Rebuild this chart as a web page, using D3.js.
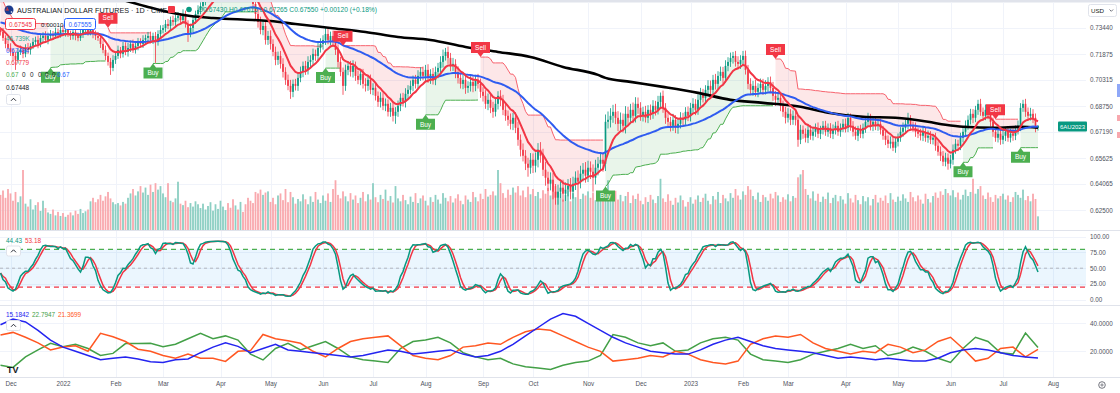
<!DOCTYPE html>
<html><head><meta charset="utf-8">
<script src="https://cdn.jsdelivr.net/npm/d3@7/dist/d3.min.js"></script>
<style>html,body{margin:0;background:#fff;overflow:hidden}svg{display:block;font-family:"Liberation Sans",Arial,Helvetica,sans-serif}</style>
</head><body><svg id="c" width="1120" height="393"></svg>
<script>
// ---- data (prices in 1e-4 units) ----
const firstOpen = 7330;
const closes = [
7320,7284,7248,7224,7200,7176,7152,7200,7212,7188,7224,7212,7236,7260,7272,7248,7284,7296,7272,7296,
7308,7296,7320,7308,7332,7320,7332,7308,7296,7320,7296,7284,7308,7332,7344,7320,7332,7308,7296,7284,
7248,7212,7176,7140,7104,7152,7176,7212,7188,7236,7200,7224,7248,7212,7236,7260,7248,7272,7284,7296,
7272,7296,7260,7308,7332,7344,7368,7356,7392,7380,7404,7416,7392,7428,7368,7308,7344,7392,7428,7452,
7476,7500,7524,7548,7572,7584,7596,7608,7620,7644,7668,7632,7596,7572,7584,7560,7596,7572,7560,7548,
7536,7488,7428,7380,7332,7356,7272,7296,7248,7200,7152,7176,7128,7080,7032,6996,6960,7008,6996,7044,
7080,7116,7092,7140,7152,7188,7176,7224,7248,7272,7308,7272,7296,7260,7212,7140,7080,6996,7092,7116,
7080,7116,7056,7032,7068,7008,6996,7032,6972,6984,6936,6900,6924,6876,6888,6840,6864,6816,6840,6876,
6924,6900,6948,6972,6996,7032,7008,7056,7080,7056,7092,7044,7068,7032,7080,7104,7140,7176,7200,7164,
7116,7128,7080,7044,7008,7032,6984,6996,7020,6996,7032,7008,6960,6936,6888,6912,6864,6840,6888,6936,
6912,6852,6816,6792,6768,6804,6744,6672,6612,6576,6528,6504,6552,6516,6552,6612,6576,6492,6444,6408,
6432,6360,6324,6360,6384,6348,6372,6396,6360,6408,6444,6420,6468,6492,6456,6504,6480,6444,6504,6528,
6552,6528,6780,6792,6816,6840,6804,6768,6792,6756,6828,6804,6852,6816,6888,6864,6816,6840,6804,6852,
6828,6876,6852,6900,6936,6864,6804,6780,6756,6792,6744,6768,6804,6792,6840,6816,6864,6888,6852,6912,
6948,6924,6972,6996,6972,7032,7008,7056,7080,7044,7116,7140,7164,7176,7140,7128,7152,7176,7092,7008,
6972,6996,6960,6984,7008,6972,6996,7020,6984,6936,6912,6924,6876,6840,6804,6828,6792,6816,6792,6672,
6732,6708,6684,6732,6696,6720,6744,6708,6732,6756,6720,6744,6708,6732,6756,6720,6744,6768,6744,6804,
6756,6720,6696,6732,6708,6744,6780,6804,6756,6780,6756,6768,6732,6696,6672,6648,6660,6624,6660,6684,
6720,6744,6768,6792,6756,6744,6720,6708,6696,6720,6684,6696,6672,6684,6636,6600,6576,6540,6564,6528,
6552,6612,6648,6636,6684,6720,6756,6792,6828,6804,6852,6888,6840,6816,6852,6828,6780,6720,6684,6708,
6672,6696,6720,6684,6708,6696,6732,6756,6864,6888,6840,6816,6828,6804,6743,6755];
const hiWick = [
20,24,16,22,28,18,24,20,26,18,22,30,16,24,20,26,18,22,28,20,
24,18,26,20,22,28,16,24,20,26,18,22,30,20,24,18,26,22,20,24,
18,22,26,20,24,28,20,26,18,24,22,30,20,26,18,24,22,28,20,24,
26,20,24,22,28,18,24,30,20,26,22,24,18,28,20,22,26,24,20,28,
22,26,20,24,28,22,26,30,28,32,36,26,30,34,28,32,26,30,34,28,
30,26,34,28,32,36,26,30,34,28,32,26,30,34,28,32,36,26,30,28,
32,26,30,34,28,32,26,30,34,28,36,30,26,32,28,34,30,26,32,28,
30,34,26,32,28,30,34,26,32,28,30,26,34,28,32,26,30,34,28,32,
26,30,34,28,32,26,30,34,28,32,30,34,28,36,32,30,34,38,24,32,
30,36,28,34,32,30,36,28,34,32,30,36,32,28,34,38,30,36,32,28,
34,30,36,32,38,30,34,36,32,38,34,36,40,38,44,40,46,42,48,36,
44,40,46,42,38,48,44,40,46,42,38,44,48,40,46,42,38,44,48,40,
46,42,44,50,46,42,48,40,44,38,46,42,36,44,40,38,34,30,36,28,
32,34,30,36,20,32,28,34,30,36,28,32,34,30,28,32,30,34,28,32,
36,30,28,34,32,30,36,28,32,30,34,28,32,24,30,34,28,30,32,30,
34,30,36,28,32,30,34,28,32,36,30,34,28,32,30,34,28,32,30,28,
30,26,32,24,28,30,26,32,24,28,30,26,28,32,24,30,26,28,32,30,
26,28,32,24,30,26,28,30,24,28,32,26,30,24,28,26,32,28,30,26,
28,32,24,42,28,26,32,24,30,28,26,32,28,24,30,26,32,28,30,26,
30,32,28,24,30,28,32,26,30,28,24,24,30,26,32,28,30,26,28,30,
26,32,28,24,30,28,26,32,28,24,30,26,36,28,26,6];
const loWick = [
22,18,26,20,24,28,60,22,18,26,20,24,28,18,22,26,20,24,18,26,
20,24,18,26,22,20,28,18,24,22,26,20,18,24,28,22,20,26,24,18,
24,20,26,22,42,20,24,18,26,22,20,28,24,18,22,26,20,24,28,22,
20,24,126,22,26,20,24,18,28,22,26,20,24,18,22,48,20,26,24,18,
26,22,20,24,28,18,22,26,30,26,34,28,32,30,26,34,28,32,30,26,
28,32,30,34,26,32,28,30,34,26,32,30,28,34,30,26,42,32,28,30,
26,32,30,28,34,26,30,32,28,34,30,26,32,28,30,34,26,54,30,32,
28,34,30,26,32,28,34,30,26,32,28,30,34,26,32,28,30,34,48,30,
32,28,34,30,26,32,28,34,30,26,34,30,36,28,32,38,30,34,28,36,
32,30,38,34,28,32,36,30,34,38,32,28,36,34,30,38,32,36,28,34,
38,32,30,36,34,38,32,36,40,34,38,54,36,44,40,46,42,38,48,44,
40,46,42,42,38,48,44,40,46,42,38,44,40,46,42,38,44,84,40,46,
42,48,44,40,46,42,38,44,48,40,46,42,38,44,40,36,30,34,28,32,
36,30,34,28,32,30,36,28,34,30,32,36,28,34,30,32,34,28,32,30,
36,28,32,34,30,28,34,32,30,36,28,32,30,34,28,32,30,34,28,32,
30,36,28,32,34,30,28,34,32,30,36,28,32,30,34,28,32,30,34,42,
26,30,28,32,24,28,30,26,32,28,24,30,26,32,28,24,30,26,28,26,
30,28,24,32,26,28,30,24,28,32,26,30,28,24,32,26,28,20,30,28,
24,30,26,32,28,24,30,26,28,32,24,30,26,28,30,24,32,26,28,36,
28,30,24,32,26,28,30,24,28,32,26,30,24,28,26,32,28,30,24,28,
30,26,32,24,28,30,26,28,32,24,30,26,28,32,26,16];
const volumeK = [
120,135,110,140,125,100,130,95,115,205,90,80,105,70,85,95,65,100,75,60,
55,70,50,62,48,58,45,52,60,50,66,55,72,58,64,70,98,110,95,105,
120,100,115,130,108,95,88,92,84,96,90,110,125,140,118,132,150,128,145,120,
155,130,160,138,150,125,112,160,100,95,108,165,90,85,100,78,92,80,98,88,
75,90,70,82,95,66,88,72,100,80,68,92,76,105,84,70,96,62,88,110,
100,92,130,125,138,120,128,132,96,110,88,118,125,102,140,95,130,112,90,106,
98,122,105,88,115,96,130,104,92,118,100,125,96,140,170,120,108,132,115,98,
126,104,118,92,110,130,98,122,104,160,112,95,120,106,138,100,116,94,150,108,
98,120,102,88,114,96,126,92,108,118,100,84,112,96,120,104,90,126,110,98,
116,94,108,122,100,88,118,104,96,130,112,98,124,106,140,114,120,132,118,205,
160,126,110,138,120,145,128,150,118,135,112,148,122,140,116,130,108,136,124,144,
118,132,150,112,128,104,120,136,98,126,112,140,106,124,118,132,110,128,102,120,
114,130,108,170,126,112,134,104,120,98,116,130,92,118,106,124,100,88,112,96,
120,104,92,116,175,108,96,122,100,86,110,94,118,102,80,96,112,90,104,118,
96,110,124,100,88,116,104,130,92,120,108,98,126,110,140,118,104,132,120,150,
138,116,104,128,96,120,112,100,124,108,130,118,96,112,104,122,98,116,110,180,
190,205,140,120,108,132,100,124,96,114,106,128,92,110,120,98,116,104,90,126,
108,94,120,102,88,116,98,112,84,106,120,94,110,100,118,92,126,104,96,114,
100,122,108,96,130,112,98,118,104,90,124,106,94,116,128,110,132,120,140,126,
118,136,112,128,104,120,138,116,130,175,124,140,150,118,106,128,112,96,120,108,
116,124,104,118,96,112,130,120,110,138,102,116,98,124,106,46.739];
const blackBars = [0,20,40,49,59,67,76,85,101,108,118,132,146,159,172,186,199,212,225,239,242,252,265,279,292,305,320,331,345,358,371,378,385,398,408,415];
const blackVals = [7692,7620,7548,7512,7470,7440,7416,7404,7392,7386,7368,7344,7320,7290,7272,7230,7200,7170,7110,7062,7044,7020,6990,6954,6912,6894,6870,6834,6810,6804,6780,6762,6750,6744,6750,6745];
// DMI readings every 5 bars (bar 0..415)
const adxVals = [39,43,41,35,28,23,20,17,14,15,16,14.5,12.5,12,14,14.5,19,23,26,23.5,19,22,25,21,20,19,18,17,16,17,19,21,20,18,19,20,21,18,16,17,20,25,31,37,43,47,45,40,35,30,26,23,20,19,18,18,21,25,28,30,27,24,22,21,20,19,17,15,16,15,14,15,14,13,13,15,19,21,22,21,19,17,16,15.18];
const plusDiVals = [10,8.5,16,21,25.7,23.3,25,22,17,18.5,25.5,25.5,25.7,23.3,25,29,32.8,29,31,28,18,13.8,22,25.7,21,24,27,22,16,14,13,12,22,27,28,30,26,19,16,14,15,11,9,8,7,10,12,13,17,32,30,26,24,26,20,21,26,29,30,28,18,14,13,12,14,18,20,22,25,22,24,17,19,23,20,15,12,22,30,27,19,18,33,22.79];
const minusDiVals = [31.6,33.5,30,26,21,23,24,20,32.8,30.4,27,21.5,20,17,15,18,15,15,12.8,20,20.5,32,29,27.5,25.7,20,16,22,27,29,30,31,24,17,15,14,17,23,24,26,25,30,34,36,35,31,27,23,20,13,14,15,17,16,20,18,14,12,11,13,25,29,31,30,32,26,22,20,18,20,19,25,23,19,21,27,30,22,13,15,22,23,16,21.37];
const dmiStep = 5;
const redSeed = 7344, blueSeed = 7380;
const ceSeedAtr = 75;
const buyBars = [20,61,130,170,242,385,408];
const sellBars = [43,103,137,192,310,398];
const monthBars = [4,25,46,65,88,108,129,149,170,193,213,235,256,276,297,315,338,359,380,401,421];
const monthLabels = ["Dec","2022","Feb","Mar","Apr","May","Jun","Jul","Aug","Sep","Oct","Nov","Dec","2023","Feb","Mar","Apr","May","Jun","Jul","Aug"];
const priceTicks = [0.7344,0.71875,0.70315,0.6875,0.6719,0.65625,0.64065,0.625];
const priceTickLabels = ["0.73440","0.71875","0.70315","0.68750","0.67190","0.65625","0.64065","0.62500"];
const stochTicks = [100,75,50,25,0];
const dmiTicks = [40,20];

// ---- setup ----
const svg = d3.select('#c');
const R = 1086;
const N = closes.length;
const C = closes.map(v=>v/1e4);
const O = C.map((c,i)=> i ? C[i-1] : firstOpen/1e4);
const Hh = C.map((c,i)=> Math.max(O[i],c) + (hiWick[i]??20)/1e4);
const Ll = C.map((c,i)=> Math.min(O[i],c) - (loWick[i]??20)/1e4);
const V = C.map((c,i)=> volumeK[i]??0);
const isUp = C.map((c,i)=> c >= O[i]);
const ohlc4 = C.map((c,i)=>(O[i]+Hh[i]+Ll[i]+c)/4);

const x = d3.scaleLinear().domain([0,1]).range([0.5,3]);
const yP = d3.scaleLinear().domain([0.625,0.640625]).range([210,184]);
const yV = d3.scaleLinear().domain([0,d3.max(V)]).range([230,170]);
const yS = d3.scaleLinear().domain([0,100]).range([299.7,236.7]);
const yD = d3.scaleLinear().domain([0,40]).range([379.3,323.3]);

// ---- indicators ----
function ema(src,n,seed){const a=2/(n+1);let e=seed;return src.map(v=>(e=e+a*(v-e)));}
const redL = ema(C,10,redSeed/1e4);
const blueL = ema(C,50,blueSeed/1e4);
const sma=(a,n)=>a.map((v,i)=>d3.mean(a.slice(Math.max(0,i-n+1),i+1)));
const kRaw = C.map((c,i)=>{const s=Math.max(0,i-13);const hh=d3.max(Hh.slice(s,i+1)),ll=d3.min(Ll.slice(s,i+1));return hh>ll?100*(c-ll)/(hh-ll):50;});
const stK = sma(kRaw,3), stD = sma(stK,3);
const TR = C.map((c,i)=> i? Math.max(Hh[i]-Ll[i], Math.abs(Hh[i]-C[i-1]), Math.abs(Ll[i]-C[i-1])) : Hh[i]-Ll[i]);
let atr=ceSeedAtr/1e4; const longS=[],shortS=[],dir=[]; let d0=-1;
for(let i=0;i<N;i++){
  atr+=(TR[i]-atr)/22;
  const w=C.slice(Math.max(0,i-21),i+1);
  let ls=d3.max(w)-3*atr, ss=d3.min(w)+3*atr;
  if(i){ if(C[i-1]>longS[i-1]) ls=Math.max(ls,longS[i-1]); if(C[i-1]<shortS[i-1]) ss=Math.min(ss,shortS[i-1]); }
  longS.push(ls); shortS.push(ss);
  if(buyBars.includes(i)) d0=1; if(sellBars.includes(i)) d0=-1;
  dir.push(d0);
}

// ---- frame ----
const defs=svg.append('defs');
defs.append('clipPath').attr('id','cm').append('rect').attr('x',0).attr('y',2).attr('width',R).attr('height',228);
defs.append('clipPath').attr('id','cs').append('rect').attr('x',0).attr('y',231).attr('width',R).attr('height',74);
defs.append('clipPath').attr('id','cd').append('rect').attr('x',0).attr('y',306).attr('width',R).attr('height',71);
svg.append('rect').attr('x',0).attr('y',0).attr('width',1120).attr('height',2.5).attr('fill','#e0e3eb');

const grid=svg.append('g').attr('stroke','#f0f3fa').attr('stroke-width',1);
monthBars.forEach(b=>grid.append('line').attr('x1',Math.round(x(b))+0.5).attr('x2',Math.round(x(b))+0.5).attr('y1',2.5).attr('y2',377));
priceTicks.forEach(p=>grid.append('line').attr('x1',0).attr('x2',R).attr('y1',Math.round(yP(p))+0.5).attr('y2',Math.round(yP(p))+0.5));
stochTicks.forEach(p=>grid.append('line').attr('x1',0).attr('x2',R).attr('y1',Math.round(yS(p))+0.5).attr('y2',Math.round(yS(p))+0.5));
dmiTicks.forEach(p=>grid.append('line').attr('x1',0).attr('x2',R).attr('y1',Math.round(yD(p))+0.5).attr('y2',Math.round(yD(p))+0.5));
[230.5,305.5,377.5].forEach(y=>svg.append('line').attr('x1',0).attr('x2',1120).attr('y1',y).attr('y2',y).attr('stroke','#e0e3eb'));

// ---- main pane ----
const main=svg.append('g').attr('clip-path','url(#cm)');
const idx=d3.range(N);
main.append('g').selectAll('rect').data(idx).join('rect')
  .attr('x',i=>x(i)-0.9).attr('width',1.8).attr('y',i=>yV(V[i])).attr('height',i=>230-yV(V[i]))
  .attr('fill',i=>isUp[i]?'#8ccfc3':'#f9a8ad');
const segs=[]; let cur=null;
for(let i=0;i<N;i++){ if(!cur||cur.d!==dir[i]){cur={d:dir[i],s:i,e:i};segs.push(cur);} else cur.e=i; }
segs.forEach(sg=>{
  const ids=d3.range(sg.s,sg.e+1); const st=sg.d>0?longS:shortS;
  main.append('path').datum(ids).attr('fill',sg.d>0?'rgba(76,175,80,0.12)':'rgba(242,54,69,0.12)')
    .attr('d',d3.area().x(i=>x(i)).y0(i=>yP(ohlc4[i])).y1(i=>yP(st[i])));
  main.append('path').datum(ids).attr('fill','none').attr('stroke',sg.d>0?'#4caf50':'#f7636e').attr('stroke-width',1)
    .attr('d',d3.line().x(i=>x(i)).y(i=>yP(st[i])));
});
const cg=main.append('g');
cg.selectAll('line').data(idx).join('line').attr('x1',i=>x(i)).attr('x2',i=>x(i))
  .attr('y1',i=>yP(Hh[i])).attr('y2',i=>yP(Ll[i])).attr('stroke',i=>isUp[i]?'#089981':'#f23645').attr('stroke-width',0.8);
cg.selectAll('rect').data(idx).join('rect').attr('x',i=>x(i)-0.85).attr('width',1.7)
  .attr('y',i=>Math.min(yP(O[i]),yP(C[i]))).attr('height',i=>Math.max(0.7,Math.abs(yP(O[i])-yP(C[i]))))
  .attr('fill',i=>isUp[i]?'#089981':'#f23645');
main.append('path').datum(blackBars.map((b,k)=>[b,blackVals[k]/1e4])).attr('fill','none').attr('stroke','#000').attr('stroke-width',2.6)
  .attr('d',d3.line().x(d=>x(d[0])).y(d=>yP(d[1])).curve(d3.curveMonotoneX));
main.append('path').datum(idx).attr('fill','none').attr('stroke','#2f5cf0').attr('stroke-width',2)
  .attr('d',d3.line().x(i=>x(i)).y(i=>yP(blueL[i])));
main.append('path').datum(idx).attr('fill','none').attr('stroke','#f23645').attr('stroke-width',2)
  .attr('d',d3.line().x(i=>x(i)).y(i=>yP(redL[i])));
function sig(i,yv,buy){
  const cx=x(i), w=19, h=11, col=buy?'#4caf50':'#f23645';
  const s=buy?1:-1;
  const top=Math.min(yv, yv+(4+h)*s), bot=Math.max(yv, yv+(4+h)*s);
  if(top<2 || bot>230) return;
  const g=main.append('g');
  g.append('path').attr('fill',col).attr('d',`M${cx},${yv} L${cx+3},${yv+4*s} H${cx+w/2} V${yv+(4+h)*s} H${cx-w/2} V${yv+4*s} H${cx-3} Z`);
  g.append('text').attr('x',cx).attr('y',yv+(4+h/2)*s).attr('dy','0.35em').attr('text-anchor','middle')
    .attr('font-size',6.5).attr('fill','#fff').text(buy?'Buy':'Sell');
}
buyBars.forEach(i=>{ if(i<N) sig(i,yP(longS[i]),true); });
sellBars.forEach(i=>{ if(i<N) sig(i,yP(shortS[i]),false); });

// ---- stochastic pane ----
const sp=svg.append('g').attr('clip-path','url(#cs)');
sp.append('rect').attr('x',0).attr('width',R).attr('y',yS(80)).attr('height',yS(20)-yS(80)).attr('fill','rgba(33,150,243,0.09)');
[[80,'#4caf50',1.3,'5,4'],[50,'#b2b5be',1,'3,3'],[20,'#f23645',1.3,'5,4']].forEach(([v,c,wd,da])=>
  sp.append('line').attr('x1',0).attr('x2',R).attr('y1',yS(v)).attr('y2',yS(v)).attr('stroke',c).attr('stroke-width',wd).attr('stroke-dasharray',da));
sp.append('path').datum(idx).attr('fill','none').attr('stroke','#f23645').attr('stroke-width',1.5)
  .attr('d',d3.line().x(i=>x(i)).y(i=>yS(stD[i])));
sp.append('path').datum(idx).attr('fill','none').attr('stroke','#089981').attr('stroke-width',1.5)
  .attr('d',d3.line().x(i=>x(i)).y(i=>yS(stK[i])));

// ---- DMI pane ----
const dp=svg.append('g').attr('clip-path','url(#cd)');
const dBar=k=>Math.min(k*dmiStep,N-1);
[[plusDiVals,'#43a047'],[minusDiVals,'#ff5722'],[adxVals,'#2424f0']].forEach(([arr,c])=>
  dp.append('path').datum(arr.map((v,k)=>[dBar(k),v])).attr('fill','none').attr('stroke',c).attr('stroke-width',1.5)
    .attr('d',d3.line().x(d=>x(d[0])).y(d=>yD(d[1]))));

// ---- axes ----
function styleAxis(g){g.select('.domain').remove();g.selectAll('line').remove();g.attr('font-family',null);
  g.selectAll('text').attr('font-size',6.3).attr('fill','#50535e');}
svg.append('g').attr('transform',`translate(${R},0)`)
  .call(d3.axisRight(yP).tickValues(priceTicks).tickFormat((d,k)=>priceTickLabels[k]).tickSize(0).tickPadding(4)).call(styleAxis);
svg.append('g').attr('transform',`translate(${R},0)`)
  .call(d3.axisRight(yS).tickValues(stochTicks).tickFormat(d3.format('.2f')).tickSize(0).tickPadding(4)).call(styleAxis);
svg.append('g').attr('transform',`translate(${R},0)`)
  .call(d3.axisRight(yD).tickValues(dmiTicks).tickFormat(d3.format('.4f')).tickSize(0).tickPadding(4)).call(styleAxis);
svg.append('g').attr('transform','translate(0,380)')
  .call(d3.axisBottom(x).tickValues(monthBars).tickFormat((d,k)=>monthLabels[k]).tickSize(0).tickPadding(2)).call(styleAxis);

// ---- legends / widgets ----
const T=(xx,yy,t,col,fs,extra)=>{const e=svg.append('text').attr('x',xx).attr('y',yy).attr('fill',col).attr('font-size',fs||6.6).text(t);
  if(extra) Object.entries(extra).forEach(([k,v])=>e.attr(k,v)); return e;};
svg.append('circle').attr('cx',9).attr('cy',10).attr('r',4.5).attr('fill','#1b3b8f');
svg.append('path').attr('d','M5.5,10 H9 M7.2,7.2 V10').attr('stroke','#e53935').attr('stroke-width',1);
svg.append('circle').attr('cx',11.5).attr('cy',12).attr('r',0.8).attr('fill','#fff');
T(17,12.6,'AUSTRALIAN DOLLAR FUTURES · 1D · CME','#131722',7.6,{textLength:150,lengthAdjust:'spacingAndGlyphs'});
svg.append('rect').attr('x',168).attr('y',6).attr('width',7).attr('height',7).attr('rx',1).attr('fill','#f23645');
svg.append('circle').attr('cx',189).attr('cy',9.5).attr('r',2.8).attr('fill','#089981');
T(198,12.4,'O0.67430 H0.67615 L0.67265 C0.67550 +0.00120 (+0.18%)','#089981',6.8,{textLength:179,lengthAdjust:'spacingAndGlyphs'});
svg.append('rect').attr('x',5.5).attr('y',18.5).attr('width',30).attr('height',11).attr('rx',2).attr('fill','#fff').attr('stroke','#f23645');
T(20.5,26.6,'0.67545','#f23645',6.4,{'text-anchor':'middle'});
T(41,26.6,'0.00010','#131722',6.2);
svg.append('rect').attr('x',64.5).attr('y',18.5).attr('width',31).attr('height',11).attr('rx',2).attr('fill','#fff').attr('stroke','#2962ff');
T(80,26.6,'0.67555','#2962ff',6.4,{'text-anchor':'middle'});
T(6,40.6,'46.739K','#22ab94',6.4);
T(6,52.8,'0.67494','#2962ff',6.4);
T(6,65.2,'0.67779','#f23645',6.4);
T(6,77.4,'0.67','#4caf50',6.4);
[22,30,38,45,52].forEach(xx=>T(xx,77.4,'0','#131722',6.4));
T(57,77.4,'0.67','#2962ff',6.4);
T(6,89.8,'0.67448','#131722',6.4);
function chev(x0,y0){svg.append('rect').attr('x',x0).attr('y',y0).attr('width',14).attr('height',10).attr('rx',2).attr('fill','#fff').attr('stroke','#e0e3eb');
  svg.append('path').attr('d',`M${x0+4.5},${y0+6.3} l2.5,-2.5 l2.5,2.5`).attr('fill','none').attr('stroke','#131722').attr('stroke-width',0.9);}
chev(6.5,94.5); chev(6.5,246); chev(6.5,320.5);
T(6,243.2,'44.43','#089981',6.4); T(25,243.2,'53.18','#f23645',6.4);
T(6,316.6,'15.1842','#2424f0',6.4); T(32,316.6,'22.7947','#43a047',6.4); T(58,316.6,'21.3699','#ff5722',6.4);
T(7,373,'TV','#131722',9,{'font-weight':'bold'});
svg.append('rect').attr('x',1088.5).attr('y',4.5).attr('width',28).attr('height',12).attr('rx',2).attr('fill','#fff').attr('stroke','#e0e3eb');
T(1091,12.8,'USD','#131722',6.2);
svg.append('path').attr('d','M1109.5,9.5 l1.8,1.8 l1.8,-1.8').attr('fill','none').attr('stroke','#50535e').attr('stroke-width',0.8);
svg.append('rect').attr('x',1058).attr('y',121.5).attr('width',29).attr('height',10).attr('rx',1).attr('fill','#089981');
T(1072.5,126.6,'6AU2023','#fff',6,{'text-anchor':'middle',dy:'0.35em'});
svg.append('rect').attr('x',1117).attr('y',84).attr('width',3).attr('height',13).attr('fill','#8fa8f8');
svg.append('rect').attr('x',1117).attr('y',115).attr('width',3).attr('height',6).attr('fill','#f8a8ae');
svg.append('rect').attr('x',1117).attr('y',132).attr('width',3).attr('height',6).attr('fill','#f8a8ae');
svg.append('circle').attr('cx',1102).attr('cy',385).attr('r',3.3).attr('fill','none').attr('stroke','#50535e').attr('stroke-width',0.8);
svg.append('circle').attr('cx',1102).attr('cy',385).attr('r',1.1).attr('fill','none').attr('stroke','#50535e').attr('stroke-width',0.7);
</script></body></html>
